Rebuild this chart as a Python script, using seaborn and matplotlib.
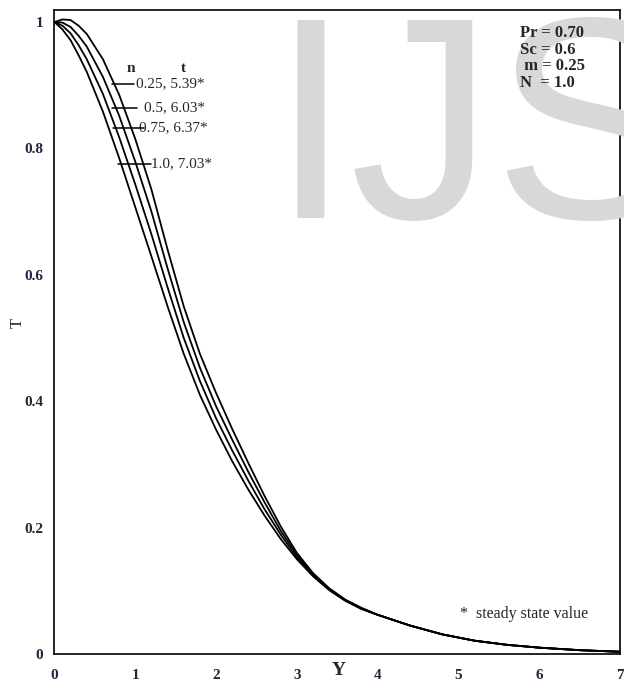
import numpy as np
import pandas as pd
import matplotlib
matplotlib.use("Agg")
import matplotlib.pyplot as plt
import seaborn as sns

# ─── Data ─────────────────────────────────────────────────────────────────────

y_grid = [0.0, 0.1, 0.2, 0.3, 0.4, 0.6, 0.8, 1.0, 1.2, 1.4, 1.6, 1.8, 2.0, 2.2, 2.4,
          2.6, 2.8, 3.0, 3.2, 3.4, 3.6, 3.8, 4.0, 4.4, 4.8, 5.2, 5.6, 6.0, 6.5, 7.0]

T_n025 = [1.0, 0.988, 0.971, 0.947, 0.921, 0.858, 0.785, 0.707, 0.629, 0.550, 0.475, 0.410,
          0.355, 0.305, 0.260, 0.219, 0.182, 0.150, 0.123, 0.101, 0.084, 0.071, 0.062,
          0.045, 0.031, 0.021, 0.0145, 0.010, 0.006, 0.0035]
T_n050 = [1.0, 0.994, 0.982, 0.963, 0.941, 0.886, 0.818, 0.743, 0.664, 0.580, 0.500, 0.432,
          0.373, 0.322, 0.274, 0.229, 0.189, 0.153, 0.125, 0.102, 0.085, 0.072, 0.062,
          0.045, 0.031, 0.021, 0.0145, 0.010, 0.006, 0.0035]
T_n075 = [1.0, 0.999, 0.992, 0.978, 0.961, 0.913, 0.852, 0.779, 0.700, 0.610, 0.525, 0.453,
          0.392, 0.339, 0.288, 0.240, 0.195, 0.157, 0.126, 0.103, 0.085, 0.072, 0.062,
          0.045, 0.031, 0.021, 0.0145, 0.010, 0.006, 0.0035]
T_n100 = [1.0, 1.004, 1.003, 0.994, 0.981, 0.941, 0.885, 0.815, 0.735, 0.640, 0.550, 0.475,
          0.413, 0.356, 0.302, 0.250, 0.202, 0.160, 0.128, 0.104, 0.086, 0.073, 0.062,
          0.045, 0.031, 0.021, 0.0145, 0.010, 0.006, 0.0035]

curve_labels = ["0.25, 5.39*", "0.5, 6.03*", "0.75, 6.37*", "1.0, 7.03*"]
params_text  = ["Pr = 0.70", "Sc = 0.6", " m = 0.25", "N  = 1.0"]

x_ticks = [0, 1, 2, 3, 4, 5, 6, 7]
y_ticks = [0, 0.2, 0.4, 0.6, 0.8, 1]
y_tick_labels = ["0", "0.2", "0.4", "0.6", "0.8", "1"]

# ─── Build long-form table ────────────────────────────────────────────────────

frames = []
for lab, vals in zip(curve_labels, [T_n025, T_n050, T_n075, T_n100]):
    frames.append(pd.DataFrame({"Y": y_grid, "T": vals, "curve": lab}))
df = pd.concat(frames, ignore_index=True)

# ─── Plot ─────────────────────────────────────────────────────────────────────

sns.set_theme(style="white")
plt.rcParams["font.family"] = ["Liberation Serif", "DejaVu Serif"]

fig = plt.figure(figsize=(6.24, 6.83), dpi=100)
ax = fig.add_axes([0.0873, 0.0425, 0.9063, 0.9429])
ax.set_facecolor("none")

# watermark
fig.text(0.4335, 0.9868, "IJSER", fontsize=207, color="#d8d8d8",
         family="Liberation Sans", ha="left", va="top", zorder=0)

sns.lineplot(data=df, x="Y", y="T", hue="curve", palette=["black"] * 4,
             linewidth=1.3, legend=False, ax=ax, sort=False, zorder=3)

ax.set_xlim(0, 7)
ax.set_ylim(0, 1.019)
ax.set_xticks(x_ticks)
ax.set_yticks(y_ticks)
ax.set_yticklabels(y_tick_labels)
tick_color = "#24243c"
ax.tick_params(axis="both", direction="out", length=4, width=1.1, colors="black",
               labelsize=11, labelcolor=tick_color, pad=4)
for lbl in ax.get_xticklabels() + ax.get_yticklabels():
    lbl.set_fontweight("bold")
ax.tick_params(axis="x", pad=7)
for sp in ax.spines.values():
    sp.set_color("black")
    sp.set_linewidth(1.2)
    sp.set_visible(True)

ax.set_xlabel("")
ax.set_ylabel("")
fig.text(0.029, 0.527, "T", rotation=90, fontsize=12, ha="center", va="center")
ax.text(3.52, -0.026, "Y", fontsize=14, fontweight="bold", ha="center", va="center")

# curve annotations
ax.text(0.95, 0.927, "n", fontsize=11, fontweight="bold", ha="center", va="center")
ax.text(1.60, 0.927, "t", fontsize=11, fontweight="bold", ha="center", va="center")
lead_x = [(0.71, 0.99), (0.71, 1.02), (0.72, 1.11), (0.79, 1.19)]
lead_y = [0.902, 0.864, 0.832, 0.775]
text_x = [1.01, 1.11, 1.05, 1.20]
for (x0, x1), yy, tx, lab in zip(lead_x, lead_y, text_x, curve_labels):
    ax.plot([x0, x1], [yy, yy], color="black", lw=1.1, zorder=4)
    ax.text(tx, yy, lab, fontsize=11, ha="left", va="center")

for i, s in enumerate(params_text):
    fig.text(0.833, 0.952 - i * 0.0246, s, fontsize=12, fontweight="bold",
             ha="left", va="center")

ax.text(5.02, 0.063, "*  steady state value", fontsize=11.5, ha="left", va="center")

fig.savefig("out.png", dpi=100)
